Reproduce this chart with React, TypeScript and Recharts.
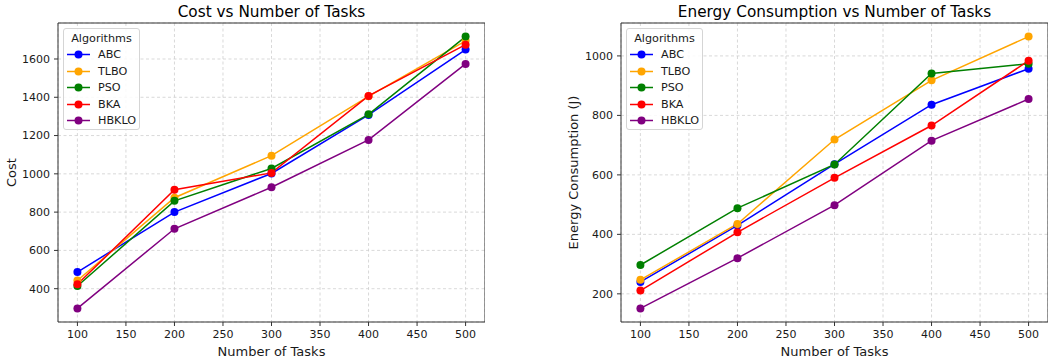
import React from 'react';
import { LineChart, Line, XAxis, YAxis, CartesianGrid, ReferenceArea, Legend } from 'recharts';

const tasks = [100, 200, 300, 400, 500];
const xTicks = [100, 150, 200, 250, 300, 350, 400, 450, 500];

const algorithms = ['ABC', 'TLBO', 'PSO', 'BKA', 'HBKLO'];
const colors = ['#0000ff', '#ffa500', '#008000', '#ff0000', '#800080'];

const costABC = [487, 800, 1002, 1308, 1649];
const costTLBO = [443, 875, 1095, 1405, 1695];
const costPSO = [414, 859, 1028, 1311, 1717];
const costBKA = [423, 917, 1005, 1407, 1675];
const costHBKLO = [297, 713, 930, 1177, 1574];
const costTicks = [400, 600, 800, 1000, 1200, 1400, 1600];

const energyABC = [240, 430, 636, 836, 957];
const energyTLBO = [247, 435, 719, 918, 1065];
const energyPSO = [297, 488, 635, 941, 974];
const energyBKA = [211, 407, 590, 766, 984];
const energyHBKLO = [151, 320, 498, 715, 855];
const energyTicks = [200, 400, 600, 800, 1000];

const costSeries = [costABC, costTLBO, costPSO, costBKA, costHBKLO];
const energySeries = [energyABC, energyTLBO, energyPSO, energyBKA, energyHBKLO];

function buildRows(series: number[][]) {
  return tasks.map((t, i) => {
    const row: Record<string, number> = { tasks: t };
    algorithms.forEach((a, k) => {
      row[a] = series[k][i];
    });
    return row;
  });
}

function padDomain(series: number[][]): [number, number] {
  const all = series.flat();
  const mn = Math.min(...all);
  const mx = Math.max(...all);
  const m = (mx - mn) * 0.05;
  return [mn - m, mx + m];
}

const FONT = 'DejaVu Sans, sans-serif';
const TXT = '#1a1a1a';

const LegendBox = () => (
  <div
    style={{
      width: 77,
      height: 102,
      boxSizing: 'border-box',
      border: '1px solid #d5d5d5',
      borderRadius: 3,
      background: 'rgba(255,255,255,0.85)',
      fontFamily: FONT,
      fontSize: 11.2,
      color: TXT,
      position: 'relative',
    }}
  >
    <div style={{ position: 'absolute', left: 0, width: 75, top: 3, textAlign: 'center', lineHeight: '13px' }}>
      Algorithms
    </div>
    {algorithms.map((a, i) => (
      <div key={a} style={{ position: 'absolute', left: 0, top: 19 + i * 16.6, height: 13, width: 75 }}>
        <svg width={30} height={13} style={{ position: 'absolute', left: 3, top: 0 }}>
          <line x1={0} y1={6.5} x2={23} y2={6.5} stroke={colors[i]} strokeWidth={1.5} />
          <circle cx={11.5} cy={6.5} r={4} fill={colors[i]} />
        </svg>
        <span style={{ position: 'absolute', left: 34, top: 0, lineHeight: '13px' }}>{a}</span>
      </div>
    ))}
  </div>
);

type PanelProps = {
  series: number[][];
  yTicks: number[];
  yLabel: string;
  width: number;
  yAxisWidth: number;
  labelX: number;
};

const Panel = ({ series, yTicks, yLabel, width, yAxisWidth, labelX }: PanelProps) => {
  const data = buildRows(series);
  const yDomain = padDomain(series);
  return (
    <LineChart width={width} height={362} data={data} margin={{ top: 23, right: 0, bottom: 0, left: 0 }}>
      <CartesianGrid stroke="#cfcfcf" strokeDasharray="3 2.5" strokeWidth={0.8} />
      <XAxis
        dataKey="tasks"
        type="number"
        domain={[80, 520]}
        ticks={xTicks}
        allowDataOverflow
        height={40}
        axisLine={false}
        tickLine={{ stroke: '#333' }}
        tickSize={4}
        tickMargin={4}
        tick={{ fontSize: 11, fill: TXT, fontFamily: FONT }}
        label={{
          content: (p: any) => {
            const vb = p.viewBox || { x: 0, y: 322, width: width, height: 40 };
            return (
              <text x={vb.x + vb.width / 2} y={356} textAnchor="middle" fontSize={13} fill={TXT} fontFamily={FONT}>
                Number of Tasks
              </text>
            );
          },
        }}
      />
      <YAxis
        type="number"
        domain={yDomain}
        ticks={yTicks}
        allowDataOverflow
        width={yAxisWidth}
        axisLine={false}
        tickLine={{ stroke: '#333' }}
        tickSize={4}
        tickMargin={4}
        tick={{ fontSize: 11, fill: TXT, fontFamily: FONT }}
        label={{
          content: () => (
            <text
              x={labelX}
              y={172.5}
              textAnchor="middle"
              dominantBaseline="central"
              fontSize={13}
              fill={TXT}
              fontFamily={FONT}
              transform={`rotate(-90 ${labelX} 172.5)`}
            >
              {yLabel}
            </text>
          ),
        }}
      />
      {algorithms.map((a, i) => (
        <Line
          key={a}
          type="linear"
          dataKey={a}
          stroke={colors[i]}
          strokeWidth={1.5}
          dot={{ r: 4, fill: colors[i], stroke: colors[i], strokeWidth: 0 }}
          activeDot={false}
          isAnimationActive={false}
        />
      ))}
      <ReferenceArea x1={80} x2={520} y1={yDomain[0]} y2={yDomain[1]} fill="none" stroke="#333" strokeWidth={1} ifOverflow="visible" />
      <Legend
        layout="vertical"
        align="center"
        verticalAlign="middle"
        content={() => <LegendBox />}
        wrapperStyle={{ position: 'absolute', left: yAxisWidth + 5, top: 28, width: 77, height: 102 }}
      />
    </LineChart>
  );
};

export default function App() {
  return (
    <div style={{ position: 'absolute', left: 0, top: 0, width: 1049, height: 362, background: '#fff', fontFamily: FONT }}>
      <div
        style={{
          position: 'absolute', left: 58, width: 427, top: 3, textAlign: 'center',
          fontSize: 15.3, lineHeight: '18px', color: '#000', whiteSpace: 'nowrap',
        }}
      >
        Cost vs Number of Tasks
      </div>
      <div
        style={{
          position: 'absolute', left: 621, width: 427, top: 3, textAlign: 'center',
          fontSize: 15.3, lineHeight: '18px', color: '#000', whiteSpace: 'nowrap',
        }}
      >
        Energy Consumption vs Number of Tasks
      </div>
      <div style={{ position: 'absolute', left: 0, top: 0 }}>
        <Panel series={costSeries} yTicks={costTicks} yLabel="Cost" width={485} yAxisWidth={58} labelX={11.5} />
      </div>
      <div style={{ position: 'absolute', left: 540, top: 0 }}>
        <Panel series={energySeries} yTicks={energyTicks} yLabel="Energy Consumption (J)" width={508} yAxisWidth={81} labelX={33.5} />
      </div>
    </div>
  );
}
